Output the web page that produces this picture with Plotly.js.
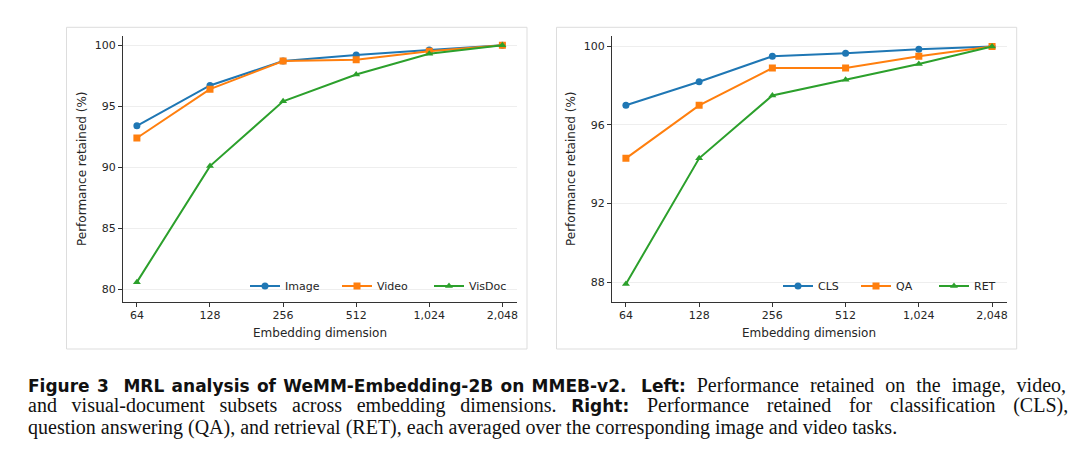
<!DOCTYPE html>
<html>
<head>
<meta charset="utf-8">
<script src="https://cdn.plot.ly/plotly-3.0.1.min.js"></script>
<style>html,body{margin:0;padding:0;background:#fff;}#chart{width:1080px;height:459px;}</style>
</head>
<body>
<div id="chart"></div>
<script>
// ---- data ----
const dims = ["64", "128", "256", "512", "1,024", "2,048"];

const leftNames = ["Image", "Video", "VisDoc"];
const imageVals = [93.4, 96.7, 98.7, 99.2, 99.6, 100];
const videoVals = [92.4, 96.4, 98.7, 98.8, 99.5, 100];
const visdocVals = [80.6, 90.1, 95.4, 97.6, 99.3, 100];

const rightNames = ["CLS", "QA", "RET"];
const clsVals = [97.0, 98.2, 99.5, 99.65, 99.85, 100];
const qaVals = [94.3, 97.0, 98.9, 98.9, 99.5, 100];
const retVals = [87.9, 94.3, 97.5, 98.3, 99.1, 100];

const leftTicks = [80, 85, 90, 95, 100];
const rightTicks = [88, 92, 96, 100];

const colors = ["#1f77b4", "#ff7f0e", "#2ca02c"];
const symbols = ["circle", "square", "triangle-up"];

// ---- helpers ----
const W = 1080, H = 459;
const px = v => v / W;
const py = v => 1 - v / H;

function mk(name, y, i, xa, ya, leg) {
  return {
    type: "scatter", mode: "lines+markers", name: name,
    x: dims, y: y, xaxis: xa, yaxis: ya, legend: leg,
    line: {color: colors[i], width: 2},
    marker: {color: colors[i], symbol: symbols[i], size: 7}
  };
}

const traces = [
  mk(leftNames[0], imageVals, 0, "x", "y", "legend"),
  mk(leftNames[1], videoVals, 1, "x", "y", "legend"),
  mk(leftNames[2], visdocVals, 2, "x", "y", "legend"),
  mk(rightNames[0], clsVals, 0, "x2", "y2", "legend2"),
  mk(rightNames[1], qaVals, 1, "x2", "y2", "legend2"),
  mk(rightNames[2], retVals, 2, "x2", "y2", "legend2")
];

const tickFont = {family: "DejaVu Sans", size: 11, color: "#262626"};
function xAxis(domain, anchor) {
  return {
    domain: domain, anchor: anchor, type: "category",
    range: [-0.19, 5.2], showline: true, linecolor: "#333", linewidth: 1,
    ticks: "outside", ticklen: 4, tickcolor: "#333", tickwidth: 1,
    ticklabelstandoff: -1,
    showgrid: false, zeroline: false, tickfont: tickFont, fixedrange: true
  };
}
function yAxis(domain, anchor, range, ticks) {
  return {
    domain: domain, anchor: anchor, range: range,
    tickvals: ticks, ticktext: ticks.map(String),
    showline: true, linecolor: "#333", linewidth: 1,
    ticks: "outside", ticklen: 4, tickcolor: "#333", tickwidth: 1,
    showgrid: true, gridcolor: "#eeeeee", gridwidth: 1,
    zeroline: false, tickfont: tickFont, fixedrange: true
  };
}

const yDom = [py(301.7), py(36)];
const legendCommon = {
  orientation: "h", bgcolor: "rgba(0,0,0,0)", borderwidth: 0,
  font: {family: "DejaVu Sans", size: 11, color: "#262626"},
  yanchor: "middle", xanchor: "right", itemwidth: 30, tracegroupgap: 0,
  entrywidthmode: "pixels"
};

const capSans = "DejaVu Sans";
const capSerif = "Liberation Serif";
function b(t, s) { return '<span style="font-family:' + capSans + ';font-weight:bold;font-size:17px;word-spacing:' + s + 'px">' + t + '</span>'; }
function ws(t, s) { return '<span style="word-spacing:' + s + 'px">' + t + '</span>'; }

const captionLines = [
  b("Figure 3&nbsp; MRL analysis of WeMM-Embedding-2B on MMEB-v2.&nbsp; Left:", 1.4) + ws(" Performance retained on the image, video,", 6),
  ws("and visual-document subsets across embedding dimensions.&nbsp;", 9.7) + b("Right:", 0) + ws(" Performance retained for classification (CLS),", 12.7),
  "question answering (QA), and retrieval (RET), each averaged over the corresponding image and video tasks."
];
const captionY = [385, 405.5, 427];

const titleFont = {family: "DejaVu Sans", size: 12, color: "#262626"};
const annotations = [
  {text: "Performance retained (%)", x: px(82), y: py(169), xref: "paper", yref: "paper",
   xanchor: "center", yanchor: "middle", textangle: -90, showarrow: false, font: titleFont},
  {text: "Performance retained (%)", x: px(571), y: py(169), xref: "paper", yref: "paper",
   xanchor: "center", yanchor: "middle", textangle: -90, showarrow: false, font: titleFont},
  {text: "Embedding dimension", x: px(320), y: py(333), xref: "paper", yref: "paper",
   xanchor: "center", yanchor: "middle", showarrow: false, font: titleFont},
  {text: "Embedding dimension", x: px(809), y: py(333), xref: "paper", yref: "paper",
   xanchor: "center", yanchor: "middle", showarrow: false, font: titleFont}
];
captionLines.forEach((t, i) => annotations.push({
  text: t, x: px(26), y: py(captionY[i]), xref: "paper", yref: "paper",
  xanchor: "left", yanchor: "middle", showarrow: false, align: "left",
  font: {family: capSerif, size: 20, color: "#111"}
}));

const layout = {
  width: W, height: H, margin: {l: 0, r: 0, t: 0, b: 0},
  paper_bgcolor: "#fff", plot_bgcolor: "rgba(0,0,0,0)",
  xaxis: xAxis([px(123), px(517)], "y"),
  yaxis: yAxis(yDom, "x", [79, 100.75], leftTicks),
  xaxis2: xAxis([px(612), px(1006.7)], "y2"),
  yaxis2: yAxis(yDom, "x2", [87, 100.53], rightTicks),
  legend: Object.assign({x: px(521), y: py(286), entrywidth: 47}, legendCommon),
  legend2: Object.assign({x: px(1012), y: py(286), entrywidth: 33}, legendCommon),
  shapes: [
    {type: "rect", xref: "paper", yref: "paper", x0: px(66.5), x1: px(527), y0: py(349), y1: py(27.3),
     line: {color: "#dddddd", width: 1}},
    {type: "rect", xref: "paper", yref: "paper", x0: px(556.5), x1: px(1016.7), y0: py(349), y1: py(27.3),
     line: {color: "#dddddd", width: 1}}
  ],
  annotations: annotations,
  showlegend: true
};

Plotly.newPlot("chart", traces, layout, {displayModeBar: false, staticPlot: true});
</script>
</body>
</html>
